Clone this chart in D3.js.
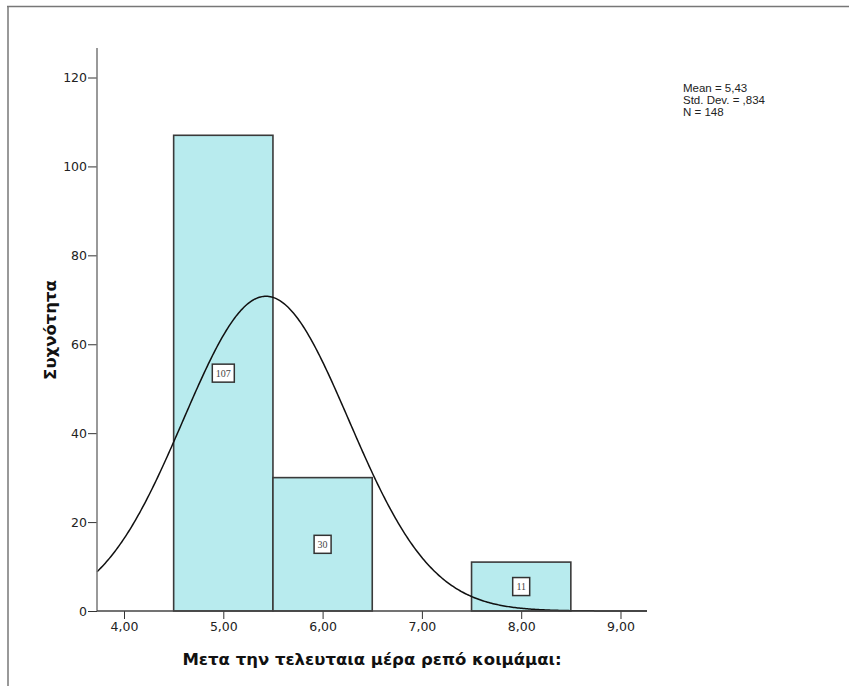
<!DOCTYPE html>
<html>
<head>
<meta charset="utf-8">
<script src="https://cdn.jsdelivr.net/npm/d3@7"></script>
<style>
  html, body { margin: 0; padding: 0; background: #fff; }
  svg { display: block; }
</style>
</head>
<body>
<svg id="chart" width="849" height="686"></svg>
<script>
// Histogram bins (bin width 1) and their counts
const binStarts = [4.5, 5.5, 7.5];
const binEnds = [5.5, 6.5, 8.5];
const counts = [107, 30, 11];

// Axis ticks
const xTicks = [4, 5, 6, 7, 8, 9];
const yTicks = [0, 20, 40, 60, 80, 100, 120];

// Summary statistics
const statMean = 5.43;
const statSd = 0.834;
const statN = 148;
const statLines = ["Mean = 5,43", "Std. Dev. = ,834", "N = 148"];

const xTitle = "Μετα την τελευταια μέρα ρεπό κοιμάμαι:";
const yTitle = "Συχνότητα";

const svg = d3.select("#chart");
const tickFont = "'DejaVu Sans', Tahoma, sans-serif";
const titleFont = "'DejaVu Sans', Arial, sans-serif";
const statFont = "'Liberation Sans', Arial, sans-serif";

// Frame lines
svg.append("line").attr("x1", 7).attr("x2", 849).attr("y1", 6.5).attr("y2", 6.5)
  .attr("stroke", "#777").attr("stroke-width", 1.5);
svg.append("line").attr("x1", 8).attr("x2", 8).attr("y1", 6).attr("y2", 686)
  .attr("stroke", "#777").attr("stroke-width", 1.5);

const x = d3.scaleLinear().domain([3.728, 9.267]).range([97, 647]);
const y = d3.scaleLinear().domain([0, 120]).range([611, 77.5]);

// Bars
const bars = binStarts.map((s, i) => ({ s, e: binEnds[i], c: counts[i] }));
svg.append("g").selectAll("rect").data(bars).join("rect")
  .attr("x", d => x(d.s))
  .attr("y", d => y(d.c))
  .attr("width", d => x(d.e) - x(d.s))
  .attr("height", d => y(0) - y(d.c))
  .attr("fill", "#b8ebee")
  .attr("stroke", "#3a3a3a")
  .attr("stroke-width", 1.6);

// Normal curve scaled to the histogram
const scaleFactor = statN * 1 / (statSd * Math.sqrt(2 * Math.PI));
const curvePts = d3.range(0, 401).map(i => {
  const v = 3.728 + (9.267 - 3.728) * i / 400;
  const z = (v - statMean) / statSd;
  return [v, scaleFactor * Math.exp(-0.5 * z * z)];
});
svg.append("path")
  .datum(curvePts)
  .attr("fill", "none")
  .attr("stroke", "#111")
  .attr("stroke-width", 1.5)
  .attr("d", d3.line().x(d => x(d[0])).y(d => y(d[1])));

// Value labels at bar centres
const lab = svg.append("g").selectAll("g").data(bars).join("g")
  .attr("transform", d => `translate(${x((d.s + d.e) / 2)},${y(d.c / 2)})`);
lab.append("rect")
  .attr("x", d => d.c >= 100 ? -11 : -8.5)
  .attr("y", -9)
  .attr("width", d => d.c >= 100 ? 22 : 17)
  .attr("height", 18)
  .attr("fill", "#fff")
  .attr("stroke", "#333")
  .attr("stroke-width", 1.5);
lab.append("text")
  .attr("text-anchor", "middle")
  .attr("dy", "0.35em")
  .attr("font-family", "'Liberation Serif', 'DejaVu Serif', serif")
  .attr("font-size", 10)
  .attr("fill", "#444")
  .text(d => d.c);

// Y axis
const yAxis = svg.append("g")
  .attr("transform", "translate(97,0)")
  .call(d3.axisLeft(y).tickValues(yTicks).tickSize(9).tickPadding(1).tickFormat(d3.format("d")));
yAxis.select(".domain").remove();
yAxis.append("line").attr("x1", 0).attr("x2", 0).attr("y1", 48).attr("y2", 611)
  .attr("stroke", "#777").attr("stroke-width", 1.5);
yAxis.selectAll(".tick line").attr("stroke", "#333");
yAxis.selectAll(".tick text").attr("font-family", tickFont).attr("font-size", 12.5).attr("fill", "#222");

// X axis
const fmtComma = d => d.toFixed(2).replace(".", ",");
const xAxis = svg.append("g")
  .attr("transform", "translate(0,611)")
  .call(d3.axisBottom(x).tickValues(xTicks).tickSize(8).tickPadding(3).tickFormat(fmtComma));
xAxis.select(".domain").remove();
xAxis.append("line").attr("x1", 97).attr("x2", 647).attr("y1", 0).attr("y2", 0)
  .attr("stroke", "#444").attr("stroke-width", 1.5);
xAxis.selectAll(".tick line").attr("stroke", "#333");
xAxis.selectAll(".tick text").attr("font-family", tickFont).attr("font-size", 12.5).attr("fill", "#222");

// Axis titles
svg.append("text")
  .attr("x", 372).attr("y", 665)
  .attr("text-anchor", "middle")
  .attr("font-family", titleFont)
  .attr("font-weight", "bold")
  .attr("font-size", 16.5)
  .attr("fill", "#111")
  .text(xTitle);
svg.append("text")
  .attr("transform", "translate(56,330) rotate(-90)")
  .attr("text-anchor", "middle")
  .attr("font-family", titleFont)
  .attr("font-weight", "bold")
  .attr("font-size", 16.5)
  .attr("fill", "#111")
  .text(yTitle);

// Statistics box
svg.append("g").selectAll("text").data(statLines).join("text")
  .attr("x", 683)
  .attr("y", (d, i) => 92 + i * 12)
  .attr("font-family", statFont)
  .attr("font-size", 11.5)
  .attr("fill", "#222")
  .text(d => d);
</script>
</body>
</html>
